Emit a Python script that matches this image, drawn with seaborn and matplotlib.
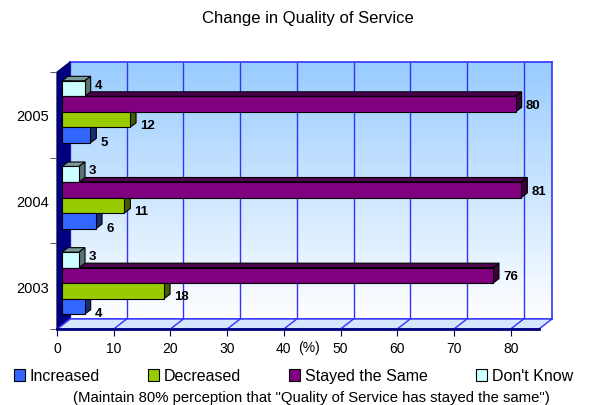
import matplotlib
matplotlib.use("Agg")

import matplotlib.pyplot as plt
import matplotlib.transforms as mtransforms
import numpy as np
import pandas as pd
import seaborn as sns
from matplotlib.colors import LinearSegmentedColormap, to_rgb
from matplotlib.patches import Patch, Polygon


# Survey results, percent of respondents
years = ["2005", "2004", "2003"]
increased = [5, 6, 4]
decreased = [12, 11, 18]
stayed_same = [80, 81, 76]
dont_know = [4, 3, 3]
x_ticks = [0, 10, 20, 30, 40, 50, 60, 70, 80]

series_names = ["Increased", "Decreased", "Stayed the Same", "Don't Know"]
series_colors = ["#3366FF", "#99CC00", "#800080", "#CCFFFF"]

plt.rcParams["font.family"] = ["Liberation Sans", "DejaVu Sans"]

W, H = 592, 406
# front plane of the 3D box in image pixels
LEFT, RIGHT, TOP, BOTTOM = 57, 539, 73, 330
DX, DY = 13, 10           # depth of the box
BAR_DX, BAR_DY = 5, 3     # bars sit a little inside the box
FACE_DX, FACE_DY = 6, 4.5  # bar thickness


def img(x, y):
    """image pixel (y from top) -> display coords"""
    return (x, H - y)


def shade(color, factor):
    return tuple(c * factor for c in to_rgb(color))


def main() -> None:
    values = {
        "Increased": increased,
        "Decreased": decreased,
        "Stayed the Same": stayed_same,
        "Don't Know": dont_know,
    }
    df = pd.DataFrame(
        [
            {"year": y, "series": s, "value": values[s][i]}
            for s in series_names
            for i, y in enumerate(years)
        ]
    )
    palette = dict(zip(series_names, series_colors))

    fig = plt.figure(figsize=(W / 100, H / 100), dpi=100)

    # back wall with gradient and grid
    bg_ax = fig.add_axes(
        [(LEFT + DX) / W, (H - BOTTOM + DY) / H, (RIGHT - LEFT) / W, (BOTTOM - TOP) / H]
    )
    wall_cmap = LinearSegmentedColormap.from_list("wall", ["#99CCFF", "#FFFFFF"])
    bg_ax.imshow(
        np.linspace(0, 1, 256).reshape(-1, 1),
        cmap=wall_cmap,
        extent=[0, 85, 0, 1],
        aspect="auto",
        origin="upper",
    )
    bg_ax.set_xlim(0, 85)
    bg_ax.set_ylim(0, 1)
    bg_ax.vlines(x_ticks, 0, 1, color="#3333FF", lw=1)
    bg_ax.set_xticks([])
    bg_ax.set_yticks([])
    for sp in bg_ax.spines.values():
        sp.set_color("#3333FF")
        sp.set_linewidth(1.2)
    bg_ax.set_zorder(0)

    ax = fig.add_axes([LEFT / W, (H - BOTTOM) / H, (RIGHT - LEFT) / W, (BOTTOM - TOP) / H])
    ax.set_facecolor("none")
    ax.set_zorder(1)

    hue_order = ["Don't Know", "Stayed the Same", "Decreased", "Increased"]
    sns.barplot(
        data=df,
        y="year",
        x="value",
        hue="series",
        order=years,
        hue_order=hue_order,
        palette=palette,
        saturation=1,
        width=0.724,
        edgecolor="black",
        linewidth=0.8,
        orient="h",
        legend=False,
        ax=ax,
    )
    ax.set_xlim(0, 85)
    ax.set_ylim(2.5, -0.5)
    ax.set_xlabel("")
    ax.set_ylabel("")

    ident = mtransforms.IdentityTransform()

    # left wall and floor
    ax.add_patch(Polygon(
        [img(LEFT, TOP), img(LEFT + DX, TOP - DY), img(LEFT + DX, BOTTOM - DY), img(LEFT, BOTTOM)],
        closed=True, facecolor="#000080", edgecolor="#000066", lw=0.8,
        transform=ident, clip_on=False, zorder=0.5,
    ))
    ax.add_patch(Polygon(
        [img(LEFT, BOTTOM), img(RIGHT, BOTTOM), img(RIGHT + DX, BOTTOM - DY), img(LEFT + DX, BOTTOM - DY)],
        closed=True, facecolor="#D6E6FF", edgecolor="#3333FF", lw=1,
        transform=ident, clip_on=False, zorder=0.5,
    ))
    for t in x_ticks:
        fx, _ = ax.transData.transform((t, 0))
        ax.plot([fx, fx + DX], [H - BOTTOM, H - BOTTOM + DY], color="#3333FF", lw=1,
                transform=ident, clip_on=False, zorder=0.6)

    # 3D look for the bars
    label_dy = {"Don't Know": 4, "Stayed the Same": -1, "Decreased": -5.5, "Increased": -7}
    shift = mtransforms.Affine2D().translate(BAR_DX, BAR_DY)
    bars = list(ax.patches)
    bar_series = [s for s in hue_order for _ in years]
    bar_values = [values[s][i] for s in hue_order for i in range(len(years))]
    for p, s, v in zip(bars, bar_series, bar_values):
        (x0, y0), (x1, y1) = ax.transData.transform(
            [(p.get_x(), p.get_y()), (p.get_x() + p.get_width(), p.get_y() + p.get_height())]
        )
        l, r = min(x0, x1) + BAR_DX, max(x0, x1) + BAR_DX
        b, t = min(y0, y1) + BAR_DY, max(y0, y1) + BAR_DY
        p.set_transform(ax.transData + shift)
        p.set_clip_on(False)
        p.set_zorder(3)
        col = palette[s]
        ax.add_patch(Polygon(
            [(l, t), (r, t), (r + FACE_DX, t + FACE_DY), (l + FACE_DX, t + FACE_DY)],
            closed=True, facecolor=shade(col, 0.6), edgecolor="black", lw=0.8,
            transform=ident, clip_on=False, zorder=2,
        ))
        ax.add_patch(Polygon(
            [(r, b), (r, t), (r + FACE_DX, t + FACE_DY), (r + FACE_DX, b + FACE_DY)],
            closed=True, facecolor=shade(col, 0.45), edgecolor="black", lw=0.8,
            transform=ident, clip_on=False, zorder=2.5,
        ))
        ax.text(r + FACE_DX + 4, (b + t) / 2 + label_dy[s], f"{v}",
                transform=ident, ha="left", va="center", fontsize=9.5,
                fontweight="bold", zorder=4)

    # axes styling
    for side in ["top", "right"]:
        ax.spines[side].set_visible(False)
    ax.spines["bottom"].set_color("#000080")
    ax.spines["bottom"].set_linewidth(2)
    ax.spines["left"].set_color("#000066")
    ax.spines["left"].set_linewidth(1)
    ax.set_xticks(x_ticks)
    ax.tick_params(axis="x", length=5, color="#000066", labelsize=10, pad=4)
    ax.set_yticks([-0.5, 0.5, 1.5, 2.5], minor=True)
    ax.tick_params(axis="y", which="major", length=0, labelsize=10.5, pad=6)
    ax.tick_params(axis="y", which="minor", length=5, color="#404040")
    ax.text(44.4, -(348 - BOTTOM) / (BOTTOM - TOP), "(%)",
            transform=mtransforms.blended_transform_factory(ax.transData, ax.transAxes),
            ha="center", va="center", fontsize=10)

    handles = [
        Patch(facecolor=palette[s], edgecolor="black", lw=0.8, label=s) for s in series_names
    ]
    fig.legend(
        handles=handles, ncol=4, loc="center left",
        bbox_to_anchor=(14 / W, 1 - 377 / H), frameon=False, fontsize=11.5,
        handlelength=0.7, handleheight=0.7, handletextpad=0.3,
        columnspacing=3.0, borderpad=0, borderaxespad=0,
    )

    fig.text(308 / W, 1 - 18 / H, "Change in Quality of Service",
             ha="center", va="center", fontsize=12)
    fig.text(311 / W, 1 - 398 / H,
             '(Maintain 80% perception that "Quality of Service has stayed the same")',
             ha="center", va="center", fontsize=10.7)

    fig.savefig("out.png", dpi=100)
    plt.close(fig)


if __name__ == "__main__":
    main()
